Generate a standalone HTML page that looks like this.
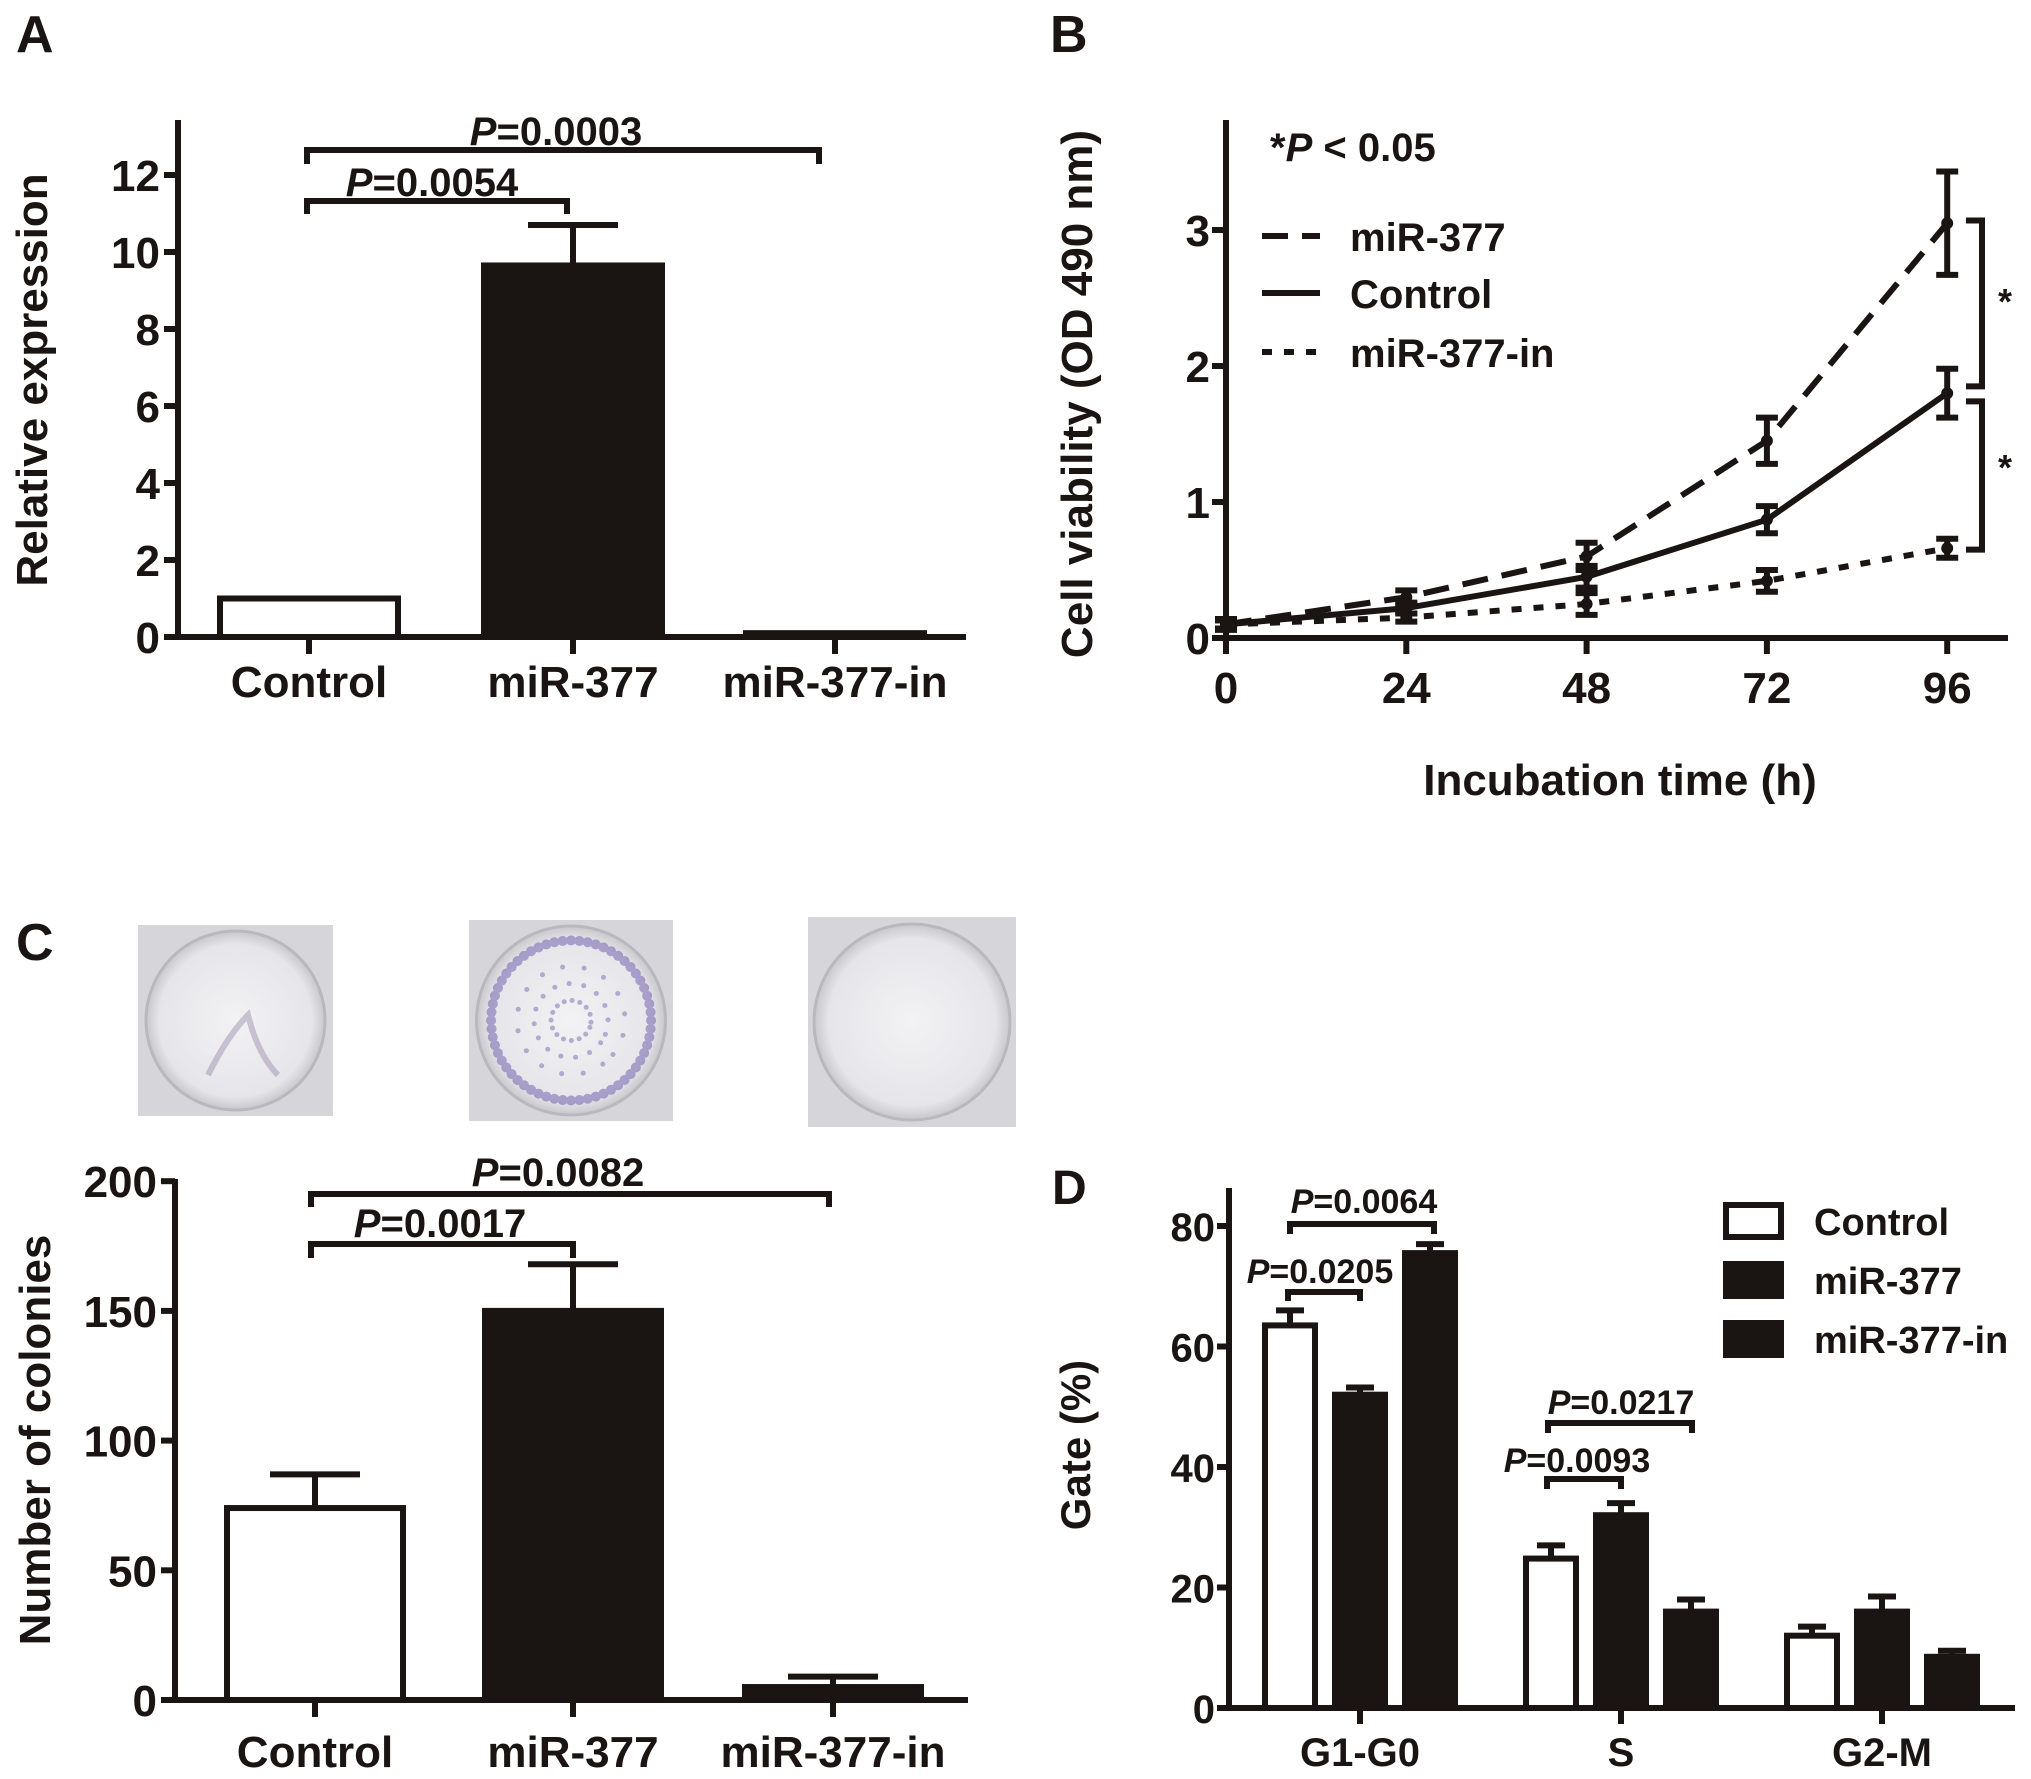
<!DOCTYPE html>
<html><head><meta charset="utf-8">
<style>
html,body{margin:0;padding:0;background:#fff;}
svg{display:block;font-family:"Liberation Sans",Arial,sans-serif;font-weight:bold;}
</style></head>
<body>
<svg id="fig" width="2031" height="1779" viewBox="0 0 2031 1779" xmlns="http://www.w3.org/2000/svg">
<defs>
<radialGradient id="dish" cx="50%" cy="50%" r="50%"><stop offset="0%" stop-color="#f2f2f4"/><stop offset="85%" stop-color="#e6e6ea"/><stop offset="100%" stop-color="#c8c8cc"/></radialGradient>
</defs>
<g id="A"></g>
<g id="B"></g>
<g id="C"></g>
<g id="D"></g>
</svg>
<script>
// Panel A data
const aCats = ["Control","miR-377","miR-377-in"];
const aVals = [1.0, 9.65, 0.1];
const aErr = [0, 1.05, 0];
const aTicks = [0,2,4,6,8,10,12];
// Panel B data
const bTimes = [0,24,48,72,96];
const bTickLabels = ["0","24","48","72","96"];
const bMir = [0.1,0.3,0.6,1.45,3.05];
const bMirErr = [0.04,0.05,0.1,0.17,0.38];
const bCtl = [0.1,0.22,0.45,0.87,1.8];
const bCtlErr = [0.03,0.04,0.08,0.1,0.18];
const bIn = [0.1,0.15,0.25,0.42,0.66];
const bInErr = [0.03,0.03,0.08,0.08,0.07];
const bYTicks = [0,1,2,3];
// Panel C data
const cCats = ["Control","miR-377","miR-377-in"];
const cVals = [74, 150, 5];
const cErr = [13, 18, 4];
const cTicks = [0,50,100,150,200];
// Panel D data
const dGroups = ["G1-G0","S","G2-M"];
const dSeries = ["Control","miR-377","miR-377-in"];
const dCtl = [63.5, 24.8, 12];
const dMir = [52, 32, 16];
const dIn = [75.5, 16, 8.5];
const dCtlErr = [2.5, 2.2, 1.5];
const dMirErr = [1.2, 2, 2.5];
const dInErr = [1.5, 2, 1];
const dTicks = [0,20,40,60,80];

const NS="http://www.w3.org/2000/svg";
function mk(parent,tag,attrs){const e=document.createElementNS(NS,tag);for(const k in attrs)e.setAttribute(k,attrs[k]);parent.appendChild(e);return e;}
function line(p,x1,y1,x2,y2,w,extra){const e=mk(p,"line",{x1:x1,y1:y1,x2:x2,y2:y2,stroke:"#1a1512","stroke-width":w||6});if(extra)for(const k in extra)e.setAttribute(k,extra[k]);return e;}
function txt(p,x,y,s,size,anchor,rot){const e=mk(p,"text",{x:x,y:y,"font-size":size,"text-anchor":anchor||"middle",fill:"#1a1512"});if(rot)e.setAttribute("transform","rotate(-90 "+x+" "+y+")");e.textContent=s;return e;}
function ptxt(p,x,y,rest,size){const e=mk(p,"text",{x:x,y:y,"font-size":size,"text-anchor":"middle",fill:"#1a1512"});const t1=mk(e,"tspan",{"font-style":"italic"});t1.textContent="P";const t2=mk(e,"tspan",{});t2.textContent=rest;return e;}
function bracket(p,x1,x2,y,drop){const e=mk(p,"path",{d:"M"+x1+","+(y+drop)+"V"+y+"H"+x2+"V"+(y+drop),fill:"none",stroke:"#1a1512","stroke-width":6});return e;}

// ---------- Panel A ----------
(function(){
const g=document.getElementById("A");
const x0=178,xEnd=966,y0=637,perU=38.5,top=120;
const yS=v=>y0-v*perU;
const cx=[309,573,835],bw=178;
let t=txt(g,16,52,"A",52,"start");

let ax=line(g,x0,top,x0,y0+3);

ax=line(g,x0-3,y0,xEnd,y0);

aTicks.forEach(v=>{
 const l=line(g,x0-14,yS(v),x0,yS(v));
 
 const tl=txt(g,x0-18,yS(v)+16,String(v),44,"end");
 
});
aCats.forEach((c,i)=>{
 const l=line(g,cx[i],y0,cx[i],y0+17);
 
 const tl=txt(g,cx[i],697,c,44);
 
 const h=Math.max(aVals[i]*perU,3);
 if(aErr[i]>0){
  const e1=line(g,cx[i],yS(aVals[i]),cx[i],yS(aVals[i]+aErr[i]));
  
  const e2=line(g,cx[i]-45,yS(aVals[i]+aErr[i]),cx[i]+45,yS(aVals[i]+aErr[i]));
  
 }
 const r=mk(g,"rect",{x:cx[i]-bw/2,y:y0-h,width:bw,height:h,fill:i===0?"#fff":"#1a1512",stroke:"#1a1512","stroke-width":6});
 
});
let b=bracket(g,cx[0]-2,cx[1]-6,201,13);

let p=ptxt(g,432,196,"=0.0054",40);

b=bracket(g,cx[0]-2,cx[2]-16,150,14);

p=ptxt(g,556,145,"=0.0003",40);

const yt=txt(g,47,380,"Relative expression",44,"middle",true);

})();

// ---------- Panel B ----------
(function(){
const g=document.getElementById("B");
const x0=1226,y0=638,perU=136,top=120,xEnd=2008,perH=180.3/24;
const xS=t=>x0+t*perH, yS=v=>y0-v*perU;
let t=txt(g,1050,52,"B",52,"start");

let ax=line(g,x0,top,x0,y0+3);

ax=line(g,x0-3,y0,xEnd,y0);

bYTicks.forEach(v=>{
 const l=line(g,x0-14,yS(v),x0,yS(v));
 
 const tl=txt(g,x0-16,yS(v)+16,String(v),44,"end");
 
});
bTimes.forEach((tm,i)=>{
 const l=line(g,xS(tm),y0,xS(tm),y0+16);
 
 const tl=txt(g,xS(tm),703,bTickLabels[i],44);
 
});
const series=[[bMir,bMirErr,"26 14","mir-377"],[bCtl,bCtlErr,"","control"],[bIn,bInErr,"10 12","mir-377-in"]];
series.forEach(s=>{
 const pts=bTimes.map((tm,i)=>xS(tm)+","+yS(s[0][i])).join(" ");
 const pl=mk(g,"polyline",{points:pts,fill:"none",stroke:"#1a1512","stroke-width":6});
 if(s[2])pl.setAttribute("stroke-dasharray",s[2]);
 
 bTimes.forEach((tm,i)=>{
  const x=xS(tm),v=s[0][i],e=s[1][i];
  const el=line(g,x,yS(v-e),x,yS(v+e),6);
  
  const c1=line(g,x-11,yS(v+e),x+11,yS(v+e),6);
  
  const c2=line(g,x-11,yS(v-e),x+11,yS(v-e),6);
  
  const m=mk(g,"circle",{cx:x,cy:yS(v),r:6,fill:"#1a1512"});
  
 });
});
const bx=1966;
let br=mk(g,"path",{d:"M"+bx+","+yS(3.07)+"H"+(bx+16)+"V"+yS(1.85)+"H"+bx,fill:"none",stroke:"#1a1512","stroke-width":6});

br=mk(g,"path",{d:"M"+bx+","+yS(1.74)+"H"+(bx+16)+"V"+yS(0.65)+"H"+bx,fill:"none",stroke:"#1a1512","stroke-width":6});

let st=txt(g,2005,314,"*",36);

st=txt(g,2005,480,"*",36);

const note=mk(g,"text",{x:1270,y:161,"font-size":40,fill:"#1a1512"});

const n1=mk(note,"tspan",{});n1.textContent="*";
const n2=mk(note,"tspan",{"font-style":"italic"});n2.textContent="P";
const n3=mk(note,"tspan",{});n3.textContent=" < 0.05";
const leg=[["miR-377",236,"26 14"],["Control",293,""],["miR-377-in",352,"10 12"]];
leg.forEach(l=>{
 const ln=line(g,1262,l[1],1320,l[1],6);
 if(l[2])ln.setAttribute("stroke-dasharray",l[2]);
 
 const lt=txt(g,1350,l[1]+15,l[0],40,"start");
 
});
const xt=txt(g,1620,795,"Incubation time (h)",44);

const yt=txt(g,1092,394,"Cell viability (OD 490 nm)",44,"middle",true);

})();

// ---------- Panel C ----------
(function(){
const g=document.getElementById("C");
const x0=175,y0=1700,perU=129.7/50,top=1179,xEnd=968;
const yS=v=>y0-v*perU;
const cx=[315,573,833],bw=176;
let t=txt(g,16,960,"C",52,"start");

const photos=[[138,925,195,191,"control"],[469,920,204,201,"mir-377"],[808,917,208,210,"mir-377-in"]];
photos.forEach((ph,i)=>{
 const pg=mk(g,"g",{});
 
 mk(pg,"rect",{x:ph[0],y:ph[1],width:ph[2],height:ph[3],fill:"#d6d6da"});
 mk(pg,"circle",{cx:ph[0]+ph[2]/2,cy:ph[1]+ph[3]/2,r:Math.min(ph[2],ph[3])/2-6,fill:"url(#dish)",stroke:"#b8b8be","stroke-width":3});
 if(i===0){
  mk(pg,"path",{d:"M"+(ph[0]+70)+","+(ph[1]+150)+"q20,-40 40,-60 q10,40 30,60",fill:"none",stroke:"#8a7aa0","stroke-width":6,opacity:0.4});
 }
 if(i===1){
  let d="";for(let a=0;a<360;a+=6){const r=80,cx2=ph[0]+ph[2]/2,cy2=ph[1]+ph[3]/2;d+="M"+(cx2+r*Math.cos(a*Math.PI/180))+","+(cy2+r*Math.sin(a*Math.PI/180))+"h0.1";}
  mk(pg,"path",{d:d,stroke:"#6a5aaa","stroke-width":10,"stroke-linecap":"round",opacity:0.5});
  let d2="";for(let a=0;a<360;a+=23){for(let r=20;r<70;r+=17){const cx2=ph[0]+ph[2]/2,cy2=ph[1]+ph[3]/2;d2+="M"+(cx2+r*Math.cos((a+r)*Math.PI/180))+","+(cy2+r*Math.sin((a+r)*Math.PI/180))+"h0.1";}}
  mk(pg,"path",{d:d2,stroke:"#7a6ab0","stroke-width":5,"stroke-linecap":"round",opacity:0.5});
 }
});
let ax=line(g,x0,top,x0,y0+3);

ax=line(g,x0-3,y0,xEnd,y0);

cTicks.forEach(v=>{
 const l=line(g,x0-14,yS(v),x0,yS(v));
 
 const tl=txt(g,x0-18,yS(v)+16,String(v),44,"end");
 
});
cCats.forEach((c,i)=>{
 const l=line(g,cx[i],y0,cx[i],y0+17);
 
 const tl=txt(g,cx[i],1767,c,44);
 
 const h=Math.max(cVals[i]*perU,3);
 const e1=line(g,cx[i],yS(cVals[i]),cx[i],yS(cVals[i]+cErr[i]));
 
 const e2=line(g,cx[i]-45,yS(cVals[i]+cErr[i]),cx[i]+45,yS(cVals[i]+cErr[i]));
 
 const r=mk(g,"rect",{x:cx[i]-bw/2,y:y0-h,width:bw,height:h,fill:i===0?"#fff":"#1a1512",stroke:"#1a1512","stroke-width":6});
 
});
let b=bracket(g,cx[0]-4,cx[1],1244,14);

let p=ptxt(g,440,1237,"=0.0017",40);

b=bracket(g,cx[0]-4,cx[2]-4,1194,13);

p=ptxt(g,558,1186,"=0.0082",40);

const yt=txt(g,50,1440,"Number of colonies",44,"middle",true);

})();

// ---------- Panel D ----------
(function(){
const g=document.getElementById("D");
const x0=1229,y0=1708,perU=120.5/20,top=1188,xEnd=2015;
const yS=v=>y0-v*perU;
const gc=[1360,1621,1882],bw=50,sp=70;
let t=txt(g,1052,1204,"D",48,"start");

let ax=line(g,x0,top,x0,y0+3);

ax=line(g,x0-3,y0,xEnd,y0);

dTicks.forEach(v=>{
 const l=line(g,x0-12,yS(v),x0,yS(v));
 
 const tl=txt(g,x0-14,yS(v)+15,String(v),40,"end");
 
});
const vals=[dCtl,dMir,dIn],errs=[dCtlErr,dMirErr,dInErr];
dGroups.forEach((gr,j)=>{
 const l=line(g,gc[j],y0,gc[j],y0+16);
 
 const tl=txt(g,gc[j],1766,gr,40);
 
 vals.forEach((arr,k)=>{
  const cx=gc[j]+(k-1)*sp,v=arr[j],e=errs[k][j];
  const e1=line(g,cx,yS(v),cx,yS(v+e),6);
  
  const e2=line(g,cx-14,yS(v+e),cx+14,yS(v+e),6);
  
  const r=mk(g,"rect",{x:cx-bw/2,y:yS(v),width:bw,height:v*perU,fill:k===0?"#fff":"#1a1512",stroke:"#1a1512","stroke-width":6});
  
 });
});
const brs=[[1288,1360,1292,9,"=0.0205",1320,1283],[1290,1434,1224,10,"=0.0064",1364,1213],[1547,1621,1479,10,"=0.0093",1577,1472],[1548,1692,1423,10,"=0.0217",1621,1414]];
brs.forEach(bb=>{
 const b=bracket(g,bb[0],bb[1],bb[2],bb[3]);
 
 const p=ptxt(g,bb[5],bb[6],bb[4],34);
 
});
[1221,1280,1339].forEach((yy,k)=>{
 const r=mk(g,"rect",{x:1726,y:yy-16,width:55,height:32,fill:k===0?"#fff":"#1a1512",stroke:"#1a1512","stroke-width":6});
 
 const lt=txt(g,1814,yy+14,dSeries[k],38,"start");
 
});
const yt=txt(g,1090,1445,"Gate (%)",42,"middle",true);

})();
</script>
</body></html>
